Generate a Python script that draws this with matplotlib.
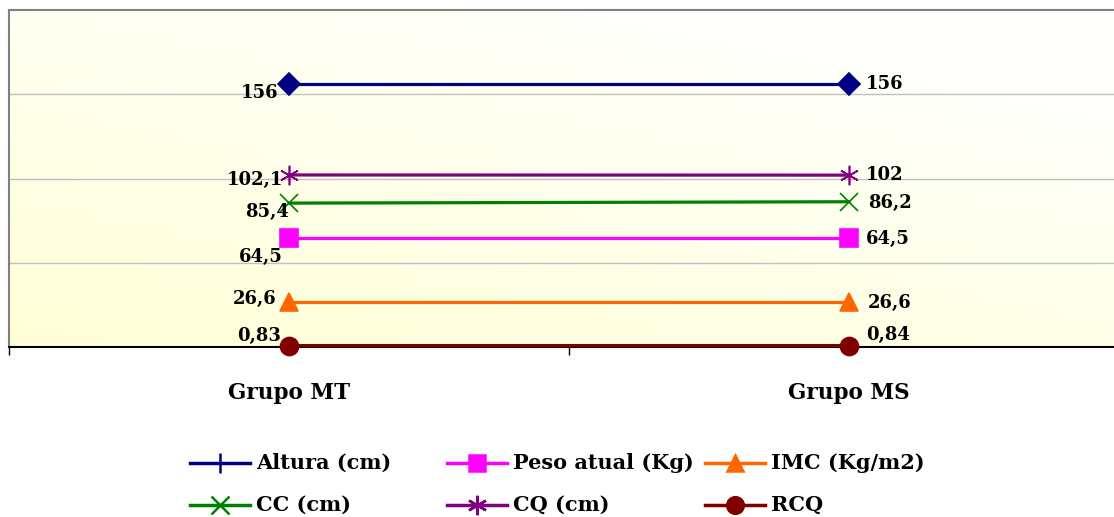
import numpy as np
import matplotlib
matplotlib.use("Agg")
import matplotlib.pyplot as plt

# ---- data ----
categories = ["Grupo MT", "Grupo MS"]
series_names = ["Altura (cm)", "Peso atual (Kg)", "IMC (Kg/m2)", "CC (cm)", "CQ (cm)", "RCQ"]
altura = [156, 156]
peso = [64.5, 64.5]
imc = [26.6, 26.6]
cc = [85.4, 86.2]
cq = [102.1, 102]
rcq = [0.83, 0.84]
labels_altura = ["156", "156"]
labels_peso = ["64,5", "64,5"]
labels_imc = ["26,6", "26,6"]
labels_cc = ["85,4", "86,2"]
labels_cq = ["102,1", "102"]
labels_rcq = ["0,83", "0,84"]

W, H = 1114, 517
fig = plt.figure(figsize=(W / 100, H / 100), dpi=100)
FONT = "DejaVu Serif"

def px_rect(x0, y0, x1, y1):
    return [x0 / W, 1 - y1 / H, (x1 - x0) / W, (y1 - y0) / H]

ax = fig.add_axes(px_rect(9, 10, 1129, 347))
ax.set_xlim(0, 2)
ax.set_ylim(0, 200)

# gradient background
gx, gy = np.meshgrid(np.linspace(0, 1, 200), np.linspace(0, 1, 200))
t = np.clip((gx * 0.6 + gy * 0.9) / 1.2, 0, 1)
c_low = np.array([1.0, 1.0, 0.84])
c_high = np.array([1.0, 1.0, 0.985])
img = c_low[None, None, :] * (1 - t[..., None]) + c_high[None, None, :] * t[..., None]
ax.imshow(img, extent=[0, 2, 0, 200], origin="lower", aspect="auto", zorder=0)

for yv in [50, 100, 150]:
    ax.axhline(yv, color="#c0c0c0", lw=1.0, zorder=1)

xs = [0.5, 1.5]
styles = [
    (altura, "#000080", "D", 11, labels_altura),
    (peso, "#FF00FF", "s", 13, labels_peso),
    (imc, "#FF6600", "^", 13, labels_imc),
    (cc, "#008000", "x", 13, labels_cc),
    (cq, "#800080", (6, 2, 0), 14, labels_cq),
    (rcq, "#800000", "o", 13, labels_rcq),
]
for vals, col, mk, ms, _ in styles:
    ax.plot(xs, vals, color=col, lw=2.3, marker=mk, markersize=ms,
            markeredgecolor=col, markerfacecolor=col, markeredgewidth=1.2,
            zorder=3, clip_on=False)

off_mt = [(-11, 9), (-6, 19), (-12, -3), (0, 9), (-6, 5), (-8, -10)]
off_ms = [(17, 0), (17, 1), (19, 1), (19, 1), (17, 0), (17, -11)]
for i, (vals, col, mk, ms, labs) in enumerate(styles):
    dx, dy = off_mt[i]
    ax.annotate(labs[0], (xs[0], vals[0]), xytext=(dx * 0.72, -dy * 0.72),
                textcoords="offset points", ha="right", va="center",
                fontsize=13, fontweight="bold", family=FONT, zorder=5)
    dx, dy = off_ms[i]
    ax.annotate(labs[1], (xs[1], vals[1]), xytext=(dx * 0.72, -dy * 0.72),
                textcoords="offset points", ha="left", va="center",
                fontsize=13, fontweight="bold", family=FONT, zorder=5)

ax.set_xticks([0, 1, 2])
ax.set_xticklabels([])
ax.set_xticks(xs, minor=True)
ax.set_xticklabels(categories, minor=True, fontsize=15.5, fontweight="bold", family=FONT)
ax.tick_params(axis="x", which="major", length=6, width=1, color="#000000", direction="out")
ax.tick_params(axis="x", which="minor", length=0, pad=25)
ax.set_yticks([])
for s in ["left", "top"]:
    ax.spines[s].set_color("#808080")
    ax.spines[s].set_linewidth(1.5)
ax.spines["right"].set_visible(False)
ax.spines["bottom"].set_color("#000000")
ax.spines["bottom"].set_linewidth(1.5)

# manual legend in pixel coords
lax = fig.add_axes([0, 0, 1, 1], zorder=-1)
lax.set_xlim(0, W)
lax.set_ylim(H, 0)
lax.axis("off")
leg_markers = ["+", "s", "^", "x", (6, 2, 0), "o"]
leg_sizes = [14, 12, 12, 13, 14, 12]
col_x = [190, 447, 705]
row_y = [463, 505]
for i, name in enumerate(series_names):
    r, c = divmod(i, 3)
    x0, y0 = col_x[c], row_y[r]
    col = styles[i][1]
    lax.plot([x0, x0 + 60], [y0, y0], color=col, lw=2.5)
    lax.plot([x0 + 30], [y0], marker=leg_markers[i], markersize=leg_sizes[i],
             color=col, markeredgecolor=col, markeredgewidth=1.8, linestyle="none")
    lax.text(x0 + 66, y0, name, ha="left", va="center", fontsize=15,
             fontweight="bold", family=FONT)

fig.savefig("out.png", dpi=100, facecolor="white")
